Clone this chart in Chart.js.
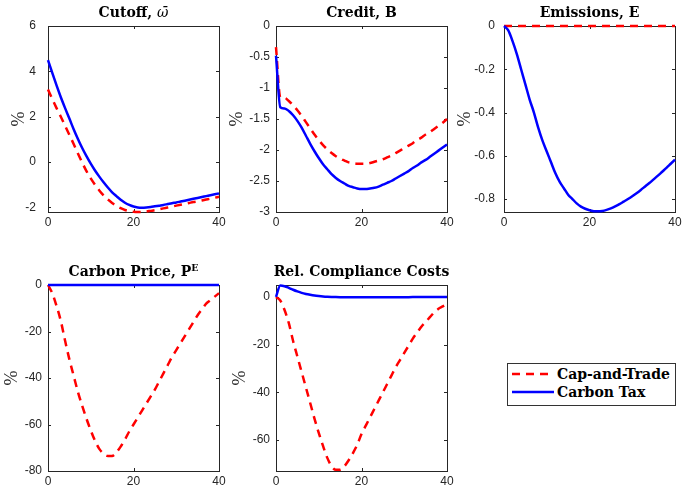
<!DOCTYPE html>
<html>
<head>
<meta charset="utf-8">
<script src="https://cdn.jsdelivr.net/npm/chart.js@4.4.1/dist/chart.umd.min.js"></script>
<style>
  body { margin: 0; background: #fff; width: 683px; height: 490px; position: relative; overflow: hidden; }
  canvas { position: absolute; }
  #legend { position: absolute; left: 507px; top: 363px; width: 167px; height: 41px; border: 1px solid #333; background: #fff;
            font: bold 14px "DejaVu Serif", serif; color: #000; }
  #legend svg { position: absolute; left: 4px; }
  #legend span { position: absolute; left: 49px; line-height: 16px; white-space: nowrap; }
</style>
</head>
<body>
<canvas id="cutoff"></canvas>
<canvas id="credit"></canvas>
<canvas id="emissions"></canvas>
<canvas id="price"></canvas>
<canvas id="costs"></canvas>
<div id="legend">
  <svg width="42" height="6" style="top:7px"><line x1="0" y1="3" x2="42" y2="3" stroke="#f00" stroke-width="2.5" stroke-dasharray="8 6"/></svg>
  <span style="top:2px">Cap-and-Trade</span>
  <svg width="42" height="6" style="top:25px"><line x1="0" y1="3" x2="42" y2="3" stroke="#00f" stroke-width="2.5"/></svg>
  <span style="top:20px">Carbon Tax</span>
</div>
<script>
// quarters after the shock
const periods = [0,1,2,3,4,5,6,7,8,9,10,11,12,13,14,15,16,17,18,19,20,
                 21,22,23,24,25,26,27,28,29,30,31,32,33,34,35,36,37,38,39,40];
const xTicks = [0, 20, 40];

// Cutoff, omega bar
const cutoffTax = [4.5,3.93,3.38,2.86,2.38,1.92,1.45,1.02,0.62,0.26,-0.07,-0.37,-0.64,-0.89,-1.12,-1.33,-1.5,-1.66,-1.79,-1.89,-1.96,
                   -2.0,-2.01,-2.0,-1.98,-1.95,-1.92,-1.89,-1.85,-1.81,-1.78,-1.74,-1.7,-1.66,-1.62,-1.58,-1.54,-1.5,-1.46,-1.42,-1.38];
const cutoffCap = [3.2,2.78,2.38,2.0,1.6,1.2,0.8,0.38,-0.02,-0.4,-0.72,-1.0,-1.25,-1.47,-1.65,-1.8,-1.93,-2.03,-2.11,-2.16,-2.19,
                   -2.2,-2.2,-2.18,-2.15,-2.12,-2.08,-2.04,-2.0,-1.96,-1.92,-1.88,-1.84,-1.8,-1.76,-1.73,-1.69,-1.65,-1.61,-1.57,-1.53];
const cutoffTicks = [-2, 0, 2, 4, 6];

// Credit, B
const creditTax = [-0.48,-1.31,-1.33,-1.37,-1.44,-1.53,-1.64,-1.77,-1.9,-2.02,-2.13,-2.23,-2.31,-2.39,-2.45,-2.5,-2.54,-2.58,-2.6,-2.62,-2.63,
                   -2.63,-2.62,-2.61,-2.59,-2.56,-2.53,-2.5,-2.46,-2.42,-2.38,-2.34,-2.29,-2.25,-2.2,-2.16,-2.11,-2.06,-2.01,-1.96,-1.91];
const creditCap = [-0.34,-1.15,-1.16,-1.21,-1.28,-1.36,-1.45,-1.55,-1.65,-1.75,-1.84,-1.92,-1.99,-2.05,-2.1,-2.14,-2.17,-2.2,-2.21,-2.22,-2.22,
                   -2.22,-2.21,-2.19,-2.17,-2.15,-2.12,-2.09,-2.05,-2.01,-1.97,-1.93,-1.89,-1.84,-1.8,-1.75,-1.71,-1.66,-1.61,-1.56,-1.5];
const creditTicks = [-3, -2.5, -2, -1.5, -1, -0.5, 0];

// Emissions, E
const emisTax = [0,-0.02,-0.07,-0.13,-0.2,-0.27,-0.34,-0.4,-0.47,-0.53,-0.58,-0.63,-0.68,-0.72,-0.75,-0.78,-0.8,-0.82,-0.835,-0.845,-0.852,
                 -0.856,-0.857,-0.855,-0.85,-0.843,-0.834,-0.824,-0.812,-0.8,-0.787,-0.773,-0.758,-0.742,-0.726,-0.709,-0.692,-0.674,-0.656,-0.637,-0.618];
const emisCap = [0,0,0,0,0,0,0,0,0,0,0,0,0,0,0,0,0,0,0,0,0,
                 0,0,0,0,0,0,0,0,0,0,0,0,0,0,0,0,0,0,0,0];
const emisTicks = [-0.8, -0.6, -0.4, -0.2, 0];

// Carbon price, P^E
const priceTax = [0,0,0,0,0,0,0,0,0,0,0,0,0,0,0,0,0,0,0,0,0,
                  0,0,0,0,0,0,0,0,0,0,0,0,0,0,0,0,0,0,0,0];
const priceCap = [0,-3.5,-9,-15.5,-24,-32,-39,-46,-52,-57.5,-62.5,-67,-70.5,-72.5,-73.5,-73.5,-72,-69.5,-66.5,-63,-60,
                  -57,-54,-51,-48,-45,-41.5,-38,-34.5,-31,-28,-25,-22,-19,-16,-13,-10.5,-8,-6.5,-5,-3.5];
const priceTicks = [-80, -60, -40, -20, 0];

// Relative compliance costs
const costTax = [0,4.8,4.5,3.8,3.0,2.3,1.7,1.25,0.9,0.6,0.38,0.2,0.07,-0.02,-0.08,-0.12,-0.15,-0.15,-0.15,-0.15,-0.15,
                 -0.15,-0.15,-0.15,-0.15,-0.15,-0.14,-0.13,-0.12,-0.11,-0.1,-0.09,-0.08,-0.07,-0.06,-0.05,-0.04,-0.03,-0.02,-0.01,0];
const costCap = [0,-1.5,-5.5,-11,-18.5,-25,-31.5,-38,-44.5,-51,-57,-62.5,-67.5,-71,-72.5,-72.5,-71,-68.5,-65.5,-62,-57.5,
                 -54,-50.5,-47,-43.5,-40,-36.5,-33,-29.5,-26.5,-23.5,-20.5,-17.5,-15,-12.5,-10.5,-8.5,-6.5,-5,-4,-3];
const costTicks = [-60, -40, -20, 0];

const AXIS = '#262626';
const TITLE_FONT = '"DejaVu Serif", serif';

const frame = {
  id: 'frame',
  beforeDatasetsDraw(chart, args, opts) {
    const { ctx, chartArea: a, scales: { x, y } } = chart;
    ctx.save();
    ctx.strokeStyle = AXIS;
    ctx.lineWidth = 1;
    ctx.strokeRect(a.left + 0.5, a.top + 0.5, a.width, a.height);
    ctx.beginPath();
    xTicks.forEach(v => {
      const px = Math.round(x.getPixelForValue(v)) + 0.5;
      ctx.moveTo(px, a.bottom); ctx.lineTo(px, a.bottom - 3);
      ctx.moveTo(px, a.top); ctx.lineTo(px, a.top + 3);
    });
    opts.yTicks.forEach(v => {
      const py = Math.round(y.getPixelForValue(v)) + 0.5;
      ctx.moveTo(a.left, py); ctx.lineTo(a.left + 3, py);
      ctx.moveTo(a.right, py); ctx.lineTo(a.right - 3, py);
    });
    ctx.stroke();
    ctx.restore();
  },
  afterDraw(chart, args, opts) {
    const { ctx, chartArea: a } = chart;
    ctx.save();
    ctx.fillStyle = '#000';
    ctx.textBaseline = 'middle';
    ctx.textAlign = 'left';
    const fontOf = p => (p.italic ? 'italic ' : 'bold ') + (p.sup ? '9.5px ' : '14px ') + TITLE_FONT;
    let w = 0;
    opts.title.forEach(p => { ctx.font = fontOf(p); w += ctx.measureText(p.text).width; });
    let cx = (a.left + a.right) / 2 - w / 2;
    const ty = a.top - 13;
    opts.title.forEach(p => {
      ctx.font = fontOf(p);
      ctx.fillText(p.text, cx, p.sup ? ty - 3 : ty);
      cx += ctx.measureText(p.text).width;
    });
    // y-axis label
    ctx.translate(a.left - opts.pctOffset, (a.top + a.bottom) / 2);
    ctx.rotate(-Math.PI / 2);
    ctx.textAlign = 'center';
    ctx.font = '18px "Liberation Serif", serif';
    ctx.fillStyle = AXIS;
    ctx.fillText('%', 0, 0);
    ctx.restore();
  }
};

function makePanel(id, left, top, title, tax, cap, yMin, yMax, yTicks, labelGap, pctOffset) {
  const cv = document.getElementById(id);
  const W = 48 + 171 + 10, H = 26 + 186 + 22;
  cv.width = W; cv.height = H;
  cv.style.left = (left - 48) + 'px';
  cv.style.top = (top - 26) + 'px';
  new Chart(cv.getContext('2d'), {
    type: 'line',
    data: {
      labels: periods,
      datasets: [
        { label: 'Carbon Tax', data: tax, borderColor: '#0000ff', borderWidth: 2.5, clip: 3,
          pointRadius: 0, cubicInterpolationMode: 'monotone', fill: false },
        { label: 'Cap-and-Trade', data: cap, borderColor: '#ff0000', borderWidth: 2.5, clip: 3,
          borderDash: [8, 6], pointRadius: 0, cubicInterpolationMode: 'monotone', fill: false }
      ]
    },
    options: {
      responsive: false,
      animation: false,
      devicePixelRatio: 1,
      layout: { padding: { left: 0, top: 26, right: 10, bottom: 0 } },
      plugins: {
        legend: { display: false },
        tooltip: { enabled: false },
        frame: { title, yTicks, pctOffset }
      },
      scales: {
        x: {
          type: 'linear', min: 0, max: 40,
          grid: { display: false, drawTicks: false }, border: { display: false },
          ticks: { color: AXIS, font: { family: '"Liberation Sans", sans-serif', size: 12 }, padding: 3,
                   maxRotation: 0, callback: v => String(v) },
          afterBuildTicks: s => { s.ticks = xTicks.map(v => ({ value: v })); },
          afterFit: s => { s.height = 22; s.paddingLeft = 0; s.paddingRight = 0; }
        },
        y: {
          min: yMin, max: yMax,
          grid: { display: false, drawTicks: false }, border: { display: false },
          ticks: { color: AXIS, font: { family: '"Liberation Sans", sans-serif', size: 12 }, padding: labelGap,
                   callback: v => String(v) },
          afterBuildTicks: s => { s.ticks = yTicks.map(v => ({ value: v })); },
          afterFit: s => { s.width = 48; s.paddingTop = 0; s.paddingBottom = 0; }
        }
      }
    },
    plugins: [frame]
  });
}

makePanel('cutoff', 48, 26, [{ text: 'Cutoff, ' }, { text: 'ω\u0304', italic: true }],
          cutoffTax, cutoffCap, -2.2, 6, cutoffTicks, 12, 29);
makePanel('credit', 276, 26, [{ text: 'Credit, B' }],
          creditTax, creditCap, -3, 0, creditTicks, 6, 39);
makePanel('emissions', 504, 26, [{ text: 'Emissions, E' }],
          emisTax, emisCap, -0.86, 0, emisTicks, 9, 39);
makePanel('price', 48, 285, [{ text: 'Carbon Price, P' }, { text: 'E', sup: true }],
          priceTax, priceCap, -80, 0, priceTicks, 6, 36);
makePanel('costs', 276, 285, [{ text: 'Rel. Compliance Costs' }],
          costTax, costCap, -73, 5, costTicks, 6, 36);
</script>
</body>
</html>
